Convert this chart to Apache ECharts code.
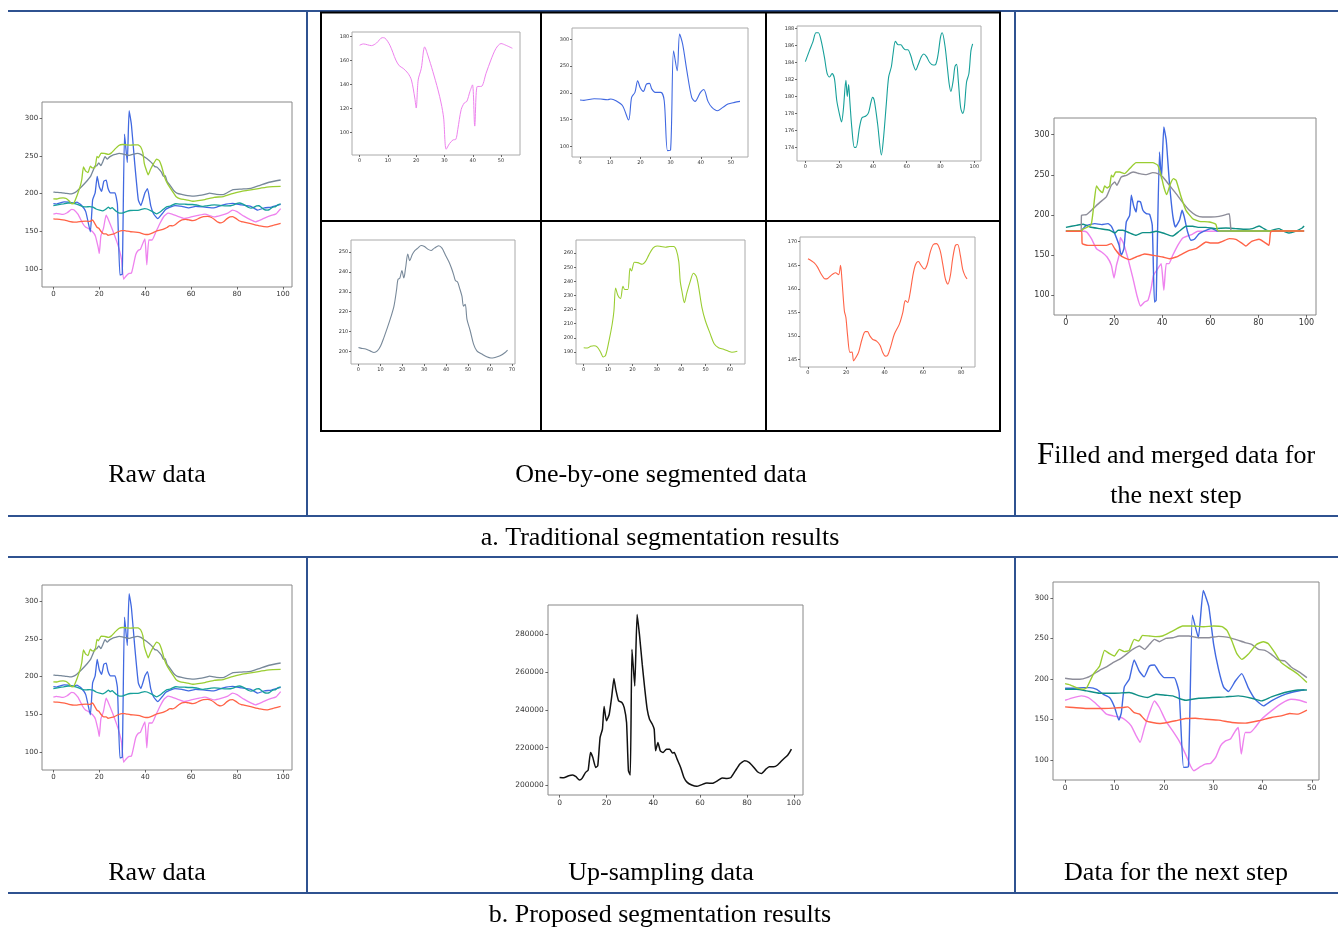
<!DOCTYPE html>
<html>
<head>
<meta charset="utf-8">
<script src="https://cdn.jsdelivr.net/npm/echarts@6/dist/echarts.min.js"></script>
<style>
html, body { margin: 0; padding: 0; background: #fff; }
#main { width: 1338px; height: 929px; }
</style>
</head>
<body>
<div id="main"></div>
<script>
// ---- raw data: [index, value]; the first part of each series is also its segment ----
var rawViolet = [[0,172.6],[1.3,173.7],[4.2,172.3],[6,174.5],[8,178.9],[8.9,178.6],[10.7,172.6],[12.8,160.3],[14,155.6],[15.4,153.4],[17.1,149.3],[18.3,143.8],[19.5,128.8],[20,120.5],[20.7,143.8],[21.8,153.4],[23,171.2],[24.1,164.4],[25.9,150.7],[27.7,135.6],[28.8,124.7],[29.7,112.3],[30.6,86.3],[31.8,91],[33,94],[34,94.5],[34.7,102.7],[35.9,119.2],[37,124.7],[37.9,126],[39,134.2],[39.9,139.7],[40.7,105.5],[41.6,138.4],[43,138.4],[44.7,149.3],[46.4,160.3],[48.2,169.9],[50,174],[51.7,172.6],[54,170.1],
  [57,167],[60,169],[63,171],[66,172.8],[70,169],[73,171],[76,174],[78,178],[80,176],[83,170],[86,165],[88,162.5],[91,166],[94,170],[97,173],[99,180]];
var rawBlue = [[0,186.6],[1.3,186],[4.7,189],[6.9,188.5],[9.1,187.2],[10.2,188.5],[11.9,185.4],[14.1,176],[16.1,149.2],[17.1,191.6],[18.2,201],[19.1,222.7],[20,209],[21,202.8],[22,216.5],[23,217.8],[23.8,207],[24.9,201],[26.8,201],[27.9,185.4],[29,91.9],[30,93.1],[31,278.8],[32.2,241.4],[33,310],[34,291.3],[35.4,241.4],[37,191.6],[38.1,184.1],[39.9,201],[41,206.5],[42.4,184.1],[43.7,172.9],[45.5,166.7],[47.3,172.9],[49,179.1],[51.2,182.2],[53,184.1],
  [56,183],[59,181],[62,183],[66,182],[70,181],[74,185],[78,187],[82,185],[86,183],[89,178],[92,181],[95,182],[99,185.5]];
var rawTeal = [[0,184.1],[2.4,185.4],[4.4,186.4],[6.3,187.5],[7.7,187.5],[9.3,186.6],[11.3,184.6],[12.9,182.7],[14.3,182.3],[15.8,182.7],[17.2,182.1],[18.6,179.5],[20.2,177.9],[21.4,177],[22.5,178.5],[24,181.9],[24.8,180],[25.6,181.4],[26.3,179.5],[27.5,176.3],[29,174],[30,174],[32,176.3],[33.5,177.5],[35.8,177.7],[37.4,178.1],[38.8,179.3],[39.8,179.9],[40.8,179.5],[42.8,176.7],[45,173.1],[46.3,175.2],[47.9,179.1],[49.3,182.3],[50.9,183.5],[51.9,185],[53.3,186.5],[54.9,186.1],[56.6,186.1],[57.6,185.8],[59.2,185.5],[60.6,185.5],[62.4,184.8],[63.8,183.8],[65.3,183.1],[66.7,183.7],[68.7,184.7],[70.1,185],[71.7,184.7],[73.6,184],[75.6,183.7],[77.2,183.8],[78.6,185],[80,187],[81,187.5],[82.6,186],[84,183.5],[85.1,181.5],[86.1,180.6],[87.5,181.9],[88.5,183.5],[89.5,183.8],[90.5,181.9],[91.9,178.7],[93.1,178],[94.1,178.7],[95.4,181.7],[96.8,182.7],[98,185.4],[99,186.2]];
var rawGray = [[0,202],[1,201.7],[3.3,201.2],[5.3,200.3],[7.1,199.5],[8.6,200.3],[10.1,202.8],[11.6,207],[13.2,212],[14.7,217],[16.2,222.8],[17.4,231.2],[18,236.2],[18.9,237],[19.8,240.7],[20.7,237],[21.5,242],[22.5,249],[23.4,245.7],[24.5,248.7],[25.7,250.7],[27.1,252],[28.6,253.3],[30.1,252.8],[31.6,251.5],[33.1,250.8],[34.6,252],[36.6,253.2],[38.1,252],[39.6,248.7],[41.2,245.3],[42.4,242],[43.4,238.7],[44.2,235.7],[45.2,235],[46.1,232],[47.2,227.8],[47.9,222.8],[48.7,223.7],[49.5,216.2],[51,210.3],[52.5,203.7],[54,200.3],[56.3,198.7],[58.5,197.3],[60.4,196.7],[62.3,197],[64.6,197.8],[66.9,199.5],[68,200.7],
  [71,199],[74,198.5],[78,205],[82,206],[86,207],[90,211],[94,215],[99,218]];
var rawGreen = [[0,193],[1.5,192.8],[2.9,194],[4.2,194.4],[5.6,193.5],[6.9,190],[8,186.5],[9,187.7],[10.4,198.1],[11.7,209.8],[12.4,219],[13.1,235.3],[14,230.2],[15.1,227.9],[16.1,236.5],[16.9,234.2],[18.1,234.2],[19,249.3],[19.6,247.4],[20.8,253.5],[22.2,253.3],[24,252.1],[25.3,254],[26.7,258.6],[28.5,263.7],[30.1,265.1],[31.7,264.7],[33.5,264.2],[35.3,264.7],[36.9,264.7],[38,262.1],[39,254],[39.6,240],[40.3,233],[41.3,224.9],[42.3,231.9],[43.7,240],[45,245.8],[46.2,243.5],[47.1,236.5],[48.5,221.4],[49.9,212.1],[51.9,202.8],[53.5,195.8],[55.3,193],[57.4,191.9],[59.4,190.5],[60.8,189.8],[63,190.5],
  [66,192],[70,195],[74,196],[78,200],[82,203],[86,205],[90,207],[94,209],[99,209.5]];
var rawRed = [[0,166.4],[1.6,166],[3.3,165.5],[5,164.6],[6.8,163.2],[9,162.1],[10.3,162.2],[12.5,163],[14.3,163.4],[16,163],[17,165],[17.7,162.1],[19,155.3],[19.8,153.9],[20.7,150],[21.9,146.5],[23,146.6],[23.8,144.7],[25,145.4],[26.4,146.5],[28.2,149.3],[29.9,150.9],[31.1,150.9],[32.3,150],[33.7,149.3],[35.8,148.9],[37.6,148],[39,146.5],[40.3,145.7],[41.6,145.9],[43.3,147.9],[45.1,150.4],[47.7,152.5],[49.5,155],[50.8,157.5],[52,157.1],[53.2,158.9],[54.6,162.5],[56,165],[57.6,165.8],[59,165],[60.7,164.2],[62.1,165],[63.8,167.8],[65.4,169.4],[67.1,169.6],[68.9,168.2],[70.3,165.3],[71.7,162.1],[73,161],[74.3,162.8],[75.5,166.4],[76.9,169.2],[78.1,169.4],[79.5,167.1],[80.7,164.2],[81.9,162.8],[83,162.1],
  [86,160],[90,157],[93,155.8],[96,158],[99,160.3]];

// last index of each one-by-one segment
var segEnd = { violet: 54, blue: 53, teal: 99, gray: 68, green: 63, red: 83 };

// ---- filled and merged data ----
var mergedViolet = [[0,180],[5.8,180],[8.5,179],[10.6,170.5],[12.7,158],[14.8,154],[17.1,147.7],[18.9,137.3],[20,121.6],[21,137.3],[22.1,150],[22.6,172],[24,164.3],[25.8,145.6],[27.9,120.7],[29.5,100],[31,86.7],[32.7,91.7],[34.1,93.8],[35.4,108.3],[36.4,124.9],[38.2,133.2],[39.6,139.4],[40.7,106.2],[41.7,139.4],[42.8,139.4],[44.4,149.8],[46.5,162.2],[48.6,171.4],[50.6,173.9],[52.7,176.3],[54.8,179.7],[99,180]];
var mergedBlue = [[0,180],[6.3,180],[6.5,181],[8.5,187],[12,189.2],[14.8,188],[17.5,189.2],[18.9,185.9],[20.3,176.8],[22.1,162.2],[23,149.8],[24.1,158],[25.1,191.3],[26.5,199.6],[27.2,224.5],[28.1,212],[29.2,203.7],[29.8,217],[31,216.2],[32,205.8],[33.4,201.7],[34.8,200.8],[35.9,187.1],[36.8,91.7],[37.5,93.8],[38.9,278.4],[39.7,245.2],[40.7,309.5],[41.7,293],[43,241],[44.4,199.6],[45.5,185],[47.2,193.3],[48.3,205.8],[49.2,197.5],[50.6,178.8],[52,168.5],[53.4,169.7],[55.4,176.8],[58.2,180.9],[60.3,183],[62.3,181],[63,180],[99,180]];
var mergedTeal = [[0,184.6],[4.4,187.1],[7.2,188.4],[10,185],[14,183],[18.2,181],[20.3,177.6],[21.7,181],[23.7,181],[26.5,177.6],[29.2,174.7],[32,178],[34.8,178],[37.5,179.7],[40.3,177.6],[43,174.7],[44.4,173.9],[47.2,180],[49.9,185.9],[52.7,185.9],[55.4,184.6],[58.2,184.6],[62.3,183],[66.5,183.8],[70.6,183],[74.8,182.2],[77.5,183],[80.3,186.3],[82.3,183],[84.4,179.7],[86.5,181.7],[88.6,183],[90.6,179.7],[92.7,177.6],[95.4,179.7],[98.2,183.8],[99,186.3]];
var mergedGray = [[0,180],[6.3,180],[6.5,199.6],[8.5,200.4],[11.3,207.9],[14,215.4],[16.8,222.4],[18.9,237],[20.3,241],[21.2,237],[23,247.3],[25.1,249.4],[27.9,253.5],[30.6,251.5],[33.4,250.2],[36.1,252.7],[38.2,251.5],[40.3,247.3],[43,237],[45.8,226.6],[48.6,215.4],[51.3,205.8],[54.1,199.6],[56.8,197.5],[60.3,197.5],[63.7,198.3],[66.5,200.4],[67.9,201.7],[68.6,180.9],[69,180],[99,180]];
var mergedGreen = [[0,180],[6.5,180],[7,182],[10.5,188],[12.7,236.1],[14,230.7],[15.2,227.8],[16.1,236.1],[17.1,233.6],[18.2,236.1],[18.9,249.4],[19.6,247.3],[20.7,253.5],[22.3,253.5],[24.4,251.5],[26.5,257.7],[29.2,265.1],[32.7,265.1],[36.1,265.1],[38.2,261.8],[39.5,250],[40.7,234.9],[41.9,225.3],[43.3,237.8],[44.7,245.2],[45.8,243.2],[47.9,222.4],[49.9,205.8],[52.7,195.4],[55.4,192.1],[59.6,191.3],[62.3,188.4],[63,180.9],[63.5,180],[99,180]];
var mergedRed = [[0,179.7],[6.5,179.7],[6.8,164.3],[9.2,162.2],[16.8,162.2],[18.9,164.3],[20.3,158],[22.3,150.6],[24.4,146.5],[26.5,144.4],[29.2,147.7],[32.7,151.5],[36.1,149.8],[40.3,147.7],[43,145.6],[45.8,147.7],[48.6,151.9],[51.3,156],[54.1,158.1],[56.1,162.2],[58.2,166.4],[60.3,165.1],[63,165.1],[65.1,167.2],[67.9,170.5],[70.6,169.7],[73.4,164.3],[74.8,161.4],[77.2,167.2],[80.3,169.7],[82.3,166.4],[84.4,162.2],[85.1,178.8],[87.2,180],[99,180]];

// ---- up-sampling data ----
var upSampled = [[0,204200],[1.7,204000],[3.9,205100],[5.6,205500],[7,204600],[8.5,202800],[9.6,203700],[11.1,206900],[12.2,208100],[13.2,217400],[14.2,214800],[15.4,209500],[16.3,210400],[17.3,225400],[18.3,229800],[19,241800],[20,234200],[21.2,237700],[22.3,247400],[23.2,256700],[24,250900],[25.2,244800],[26.6,243900],[27.6,241200],[28.6,233300],[29.4,207800],[30.2,205500],[30.9,272100],[32.1,252700],[33.1,290600],[34.1,280000],[35.3,264100],[36.4,250900],[37.4,240400],[38.4,235100],[39.6,232400],[40.4,229800],[41,218300],[42,222700],[43,218300],[44.2,217400],[45.6,219200],[47,219200],[48.2,217100],[49,217400],[50.2,213900],[51.7,209500],[53.1,204200],[54.5,201600],[56.4,200200],[58.6,199500],[60.7,200400],[62.9,201200],[65.3,201100],[67.5,202500],[69.4,203900],[71.5,203700],[73.2,204200],[75.1,207800],[77,211300],[79,213000],[80.9,212200],[82.7,209900],[84.5,207200],[86.2,206300],[88.1,208600],[89.5,209900],[91.4,209900],[93.1,210800],[95.3,213600],[97.4,216000],[99,219200]];

// ---- data for the next step ----
var nextViolet = [[0,173.5],[1.7,176.8],[3.3,178.9],[4.7,176.8],[6,170.6],[7.4,162.4],[8.4,156.3],[9.7,154.2],[11.4,152.2],[12.4,148.1],[13.4,141.9],[14.4,129.6],[15.2,121.4],[16.1,139.8],[17.1,158.3],[18.1,172.7],[19.1,164.5],[20.4,148.1],[21.8,135.7],[23.1,123.4],[24.4,107],[25.4,92.6],[26.1,86.4],[27.4,91.4],[28.4,94.7],[29.5,95.5],[30.5,102.9],[31.5,117.2],[32.5,123.4],[33.5,125.5],[34.5,135.7],[35.1,139.8],[35.7,107],[36.5,133.7],[37.5,133.7],[38.5,139.8],[39.8,150.1],[41.8,160.4],[43.8,169.4],[45.8,174.7],[47.5,173.5],[49,170.6]];
var nextBlue = [[0,188.3],[1.7,188.3],[3.7,189.1],[5,189.1],[6.4,187],[7.7,180.9],[9,176.8],[10,165.3],[10.9,148.9],[11.4,158.3],[12,190],[13,199.4],[14,223.2],[15,209.7],[16,202.3],[17.1,215.8],[18.1,217],[19.1,207.6],[20.1,201.4],[22.1,201.4],[23.1,183],[24,90.6],[25,91.8],[25.8,278.6],[27,250.7],[28,309],[29.1,289.7],[30.1,242.5],[31.1,211.7],[32.1,190],[33.1,184.2],[34.5,197.3],[35.8,206.4],[37.1,189.1],[38.5,174.7],[40.2,166.5],[41.8,172.7],[43.8,178.9],[45.8,183],[47.9,185.8],[48.5,186.5]];
var nextTeal = [[0,187],[2.3,187],[4.4,185],[7,182.1],[10,182.1],[13,183],[15.1,178.9],[16.7,176.8],[18.4,180.9],[20.4,179.7],[21.8,178.9],[23.1,175.6],[24.4,173.5],[27.1,176],[29.8,176.8],[32.5,177.6],[35.1,178.9],[37.8,176],[39.8,172.7],[41.8,177.6],[44.5,183],[47.2,186.2],[49,186.2]];
var nextGray = [[0,200.6],[1.7,199.4],[3,199.4],[4.4,201.4],[5.7,205.5],[7,210.5],[8.4,214.6],[9.7,219.9],[11,224],[12.4,230.2],[13.7,236.3],[15.1,240.5],[16.1,236.3],[17.1,242.5],[18.1,248.7],[19.1,245.8],[20.4,249.9],[21.8,250.7],[23.1,252.8],[25.1,252.8],[27.1,250.7],[29.1,250.7],[31.1,252.4],[32.8,251.5],[34.5,248.7],[36.5,244.6],[37.8,242.5],[39.2,236.3],[40.5,235.1],[41.8,230.2],[43.2,223.2],[44.5,222],[45.8,214.6],[47.9,206.4],[49,201.4]];
var nextGreen = [[0,194],[1,192.4],[2.3,189],[3.7,187],[4.4,189],[5.7,205.5],[7,215.8],[8,235.1],[9,231],[10,228.1],[11,236.3],[12,233.5],[13,235.1],[14,248.7],[14.9,246.6],[15.7,253.6],[17.1,252.8],[18.4,252],[19.7,252.8],[21.1,256.9],[22.4,261],[23.8,265.1],[25.8,265.1],[28.1,264.3],[30.1,265.1],[31.8,264.3],[32.8,259.8],[33.8,246.6],[34.8,231],[35.8,224],[37.1,230.2],[38.8,242.5],[40.2,245.8],[41.2,243.3],[42.5,232.2],[43.8,219.9],[45.2,213.8],[47.2,205.5],[49,195.3]];
var nextRed = [[0,165.3],[1.7,164.5],[4.4,163.2],[7,163.2],[9.7,163.7],[11.7,164.5],[12.7,165.3],[14,158.3],[15.1,156.3],[16.4,148.1],[17.7,146],[19.1,144.8],[20.7,146],[22.4,148.1],[24.4,150.9],[26.4,151.3],[28.4,150.1],[31.1,148.9],[33.8,146],[36.5,145.2],[39.2,148.1],[41.8,152.2],[43.8,154.2],[45.5,157.1],[47.2,156.3],[49,161.2]];

// tick labels
var ticksX100 = [0, 20, 40, 60, 80, 100];
var ticksX50 = [0, 10, 20, 30, 40, 50];
var ticksY300 = [100, 150, 200, 250, 300];

var C = { violet: '#ee82ee', blue: '#4169e1', teal: '#17a09a', gray: '#778899', green: '#9acd32', red: '#ff6347' };

function seg(arr, end) {
    return arr.filter(function (p) { return p[0] <= end; });
}

var grids = [], xAxes = [], yAxes = [], series = [];

function makeAxis(i, range, ticks, font) {
    return {
        type: 'value', gridIndex: i, min: range[0], max: range[1],
        axisLine: { show: false, onZero: false },
        splitLine: { show: false },
        axisTick: { show: true, length: Math.max(2, font * 0.35), customValues: ticks, lineStyle: { color: '#444', width: 0.8 } },
        axisLabel: {
            customValues: ticks, fontSize: font, color: '#333', margin: font * 0.55,
            fontFamily: 'DejaVu Sans',
            formatter: function (v) { return String(v); }
        }
    };
}

function addPlot(p) {
    var i = grids.length;
    grids.push({
        left: p.box[0], top: p.box[1], width: p.box[2], height: p.box[3],
        show: true, borderColor: p.border || '#888', borderWidth: 1, backgroundColor: '#fff'
    });
    xAxes.push(makeAxis(i, p.x, p.xTicks, p.font));
    yAxes.push(makeAxis(i, p.y, p.yTicks, p.font));
    p.lines.forEach(function (l) {
        series.push({
            type: 'line', xAxisIndex: i, yAxisIndex: i, data: l[0],
            symbol: 'none', smooth: p.smooth || 0, silent: true, animation: false,
            lineStyle: { color: l[1], width: p.lw || 1.3 }
        });
    });
}

function rawPlot(top) {
    addPlot({
        box: [42, top, 250, 185], x: [-4.95, 103.95], y: [76, 321.5],
        xTicks: ticksX100, yTicks: ticksY300, font: 7, lw: 1.3, smooth: 0.15,
        lines: [[rawViolet, C.violet], [rawBlue, C.blue], [rawTeal, C.teal], [rawGray, C.gray], [rawGreen, C.green], [rawRed, C.red]]
    });
}

rawPlot(102);
rawPlot(585);

// one-by-one segments
addPlot({ box: [352, 32, 168, 123], x: [-2.7, 56.7], y: [81.5, 183.6], xTicks: [0, 10, 20, 30, 40, 50], yTicks: [100, 120, 140, 160, 180],
    font: 5, lw: 1, smooth: 0.3, border: '#aaa', lines: [[seg(rawViolet, segEnd.violet), C.violet]] });
addPlot({ box: [572, 28, 176, 129], x: [-2.65, 55.65], y: [80, 321.5], xTicks: [0, 10, 20, 30, 40, 50], yTicks: [100, 150, 200, 250, 300],
    font: 5, lw: 1.1, smooth: 0.3, border: '#aaa', lines: [[seg(rawBlue, segEnd.blue), C.blue]] });
addPlot({ box: [797, 26, 184, 135], x: [-4.95, 103.95], y: [172.4, 188.3], xTicks: ticksX100, yTicks: [174, 176, 178, 180, 182, 184, 186, 188],
    font: 5, lw: 1.1, smooth: 0.3, border: '#aaa', lines: [[seg(rawTeal, segEnd.teal), C.teal]] });
addPlot({ box: [351, 240, 164, 124], x: [-3.4, 71.4], y: [193.7, 256.1], xTicks: [0, 10, 20, 30, 40, 50, 60, 70], yTicks: [200, 210, 220, 230, 240, 250],
    font: 5, lw: 1.1, smooth: 0.3, border: '#aaa', lines: [[seg(rawGray, segEnd.gray), C.gray]] });
addPlot({ box: [576, 240, 169, 124], x: [-3.15, 66.15], y: [181.5, 269.3], xTicks: [0, 10, 20, 30, 40, 50, 60], yTicks: [190, 200, 210, 220, 230, 240, 250, 260],
    font: 5, lw: 1.1, smooth: 0.3, border: '#aaa', lines: [[seg(rawGreen, segEnd.green), C.green]] });
addPlot({ box: [800, 237, 175, 130], x: [-4.15, 87.15], y: [143.4, 171], xTicks: [0, 20, 40, 60, 80], yTicks: [145, 150, 155, 160, 165, 170],
    font: 5, lw: 1.1, smooth: 0.3, border: '#aaa', lines: [[seg(rawRed, segEnd.red), C.red]] });

// filled and merged
addPlot({ box: [1054, 118, 262, 197], x: [-4.95, 103.95], y: [75.5, 320.7], xTicks: ticksX100, yTicks: ticksY300,
    font: 8, lw: 1.4, smooth: 0.15,
    lines: [[mergedViolet, C.violet], [mergedBlue, C.blue], [mergedTeal, '#0f8f86'], [mergedGray, '#8d8d99'], [mergedGreen, C.green], [mergedRed, C.red]] });

// up-sampling
addPlot({ box: [548, 605, 255, 190], x: [-4.95, 103.95], y: [194900, 295600], xTicks: ticksX100, yTicks: [200000, 220000, 240000, 260000, 280000],
    font: 7.5, lw: 1.5, smooth: 0.15, lines: [[upSampled, '#111']] });

// next step
addPlot({ box: [1053, 582, 266, 198], x: [-2.45, 51.45], y: [75, 319.5], xTicks: ticksX50, yTicks: ticksY300,
    font: 7.5, lw: 1.4, smooth: 0.15,
    lines: [[nextViolet, C.violet], [nextBlue, C.blue], [nextTeal, '#0f8f86'], [nextGray, '#8d8d99'], [nextGreen, C.green], [nextRed, C.red]] });

// table frame
var blue = '#2f5290';
var serif = '"Liberation Serif", "Times New Roman", serif';
function hline(y, x1, x2, c, w) { return { type: 'line', silent: true, shape: { x1: x1, y1: y, x2: x2, y2: y }, style: { stroke: c, lineWidth: w } }; }
function vline(x, y1, y2, c, w) { return { type: 'line', silent: true, shape: { x1: x, y1: y1, x2: x, y2: y2 }, style: { stroke: c, lineWidth: w } }; }
function label(t, x, y, size) {
    return { type: 'text', silent: true, x: x, y: y, style: { text: t, font: (size || 26) + 'px ' + serif, fill: '#000', align: 'center', verticalAlign: 'middle' } };
}

var graphics = [
    hline(11, 8, 1338, blue, 2), hline(516, 8, 1338, blue, 2), hline(557, 8, 1338, blue, 2), hline(893, 8, 1338, blue, 2),
    vline(307, 11, 516, blue, 2), vline(1015, 11, 516, blue, 2), vline(307, 557, 893, blue, 2), vline(1015, 557, 893, blue, 2),
    { type: 'rect', silent: true, shape: { x: 321, y: 12.5, width: 679, height: 418.5 }, style: { fill: null, stroke: '#000', lineWidth: 2 } },
    vline(541, 12.5, 431, '#000', 2), vline(766, 12.5, 431, '#000', 2), hline(221, 321, 1000, '#000', 2),
    label('Raw data', 157, 475),
    label('One-by-one segmented data', 661, 475),
    { type: 'text', silent: true, x: 1176, y: 456, style: {
        text: '{big|F}illed and merged data for', font: '26px ' + serif, fill: '#000', align: 'center', verticalAlign: 'middle',
        rich: { big: { font: '31px ' + serif, fill: '#000' } } } },
    label('the next step', 1176, 496),
    label('a. Traditional segmentation results', 660, 538),
    label('Raw data', 157, 873),
    label('Up-sampling data', 661, 873),
    label('Data for the next step', 1176, 873),
    label('b. Proposed segmentation results', 660, 915)
];

var chart = echarts.init(document.getElementById('main'), null, { renderer: 'canvas' });
chart.setOption({
    backgroundColor: '#fff',
    animation: false,
    grid: grids,
    xAxis: xAxes,
    yAxis: yAxes,
    series: series,
    graphic: graphics
});
</script>
</body>
</html>
